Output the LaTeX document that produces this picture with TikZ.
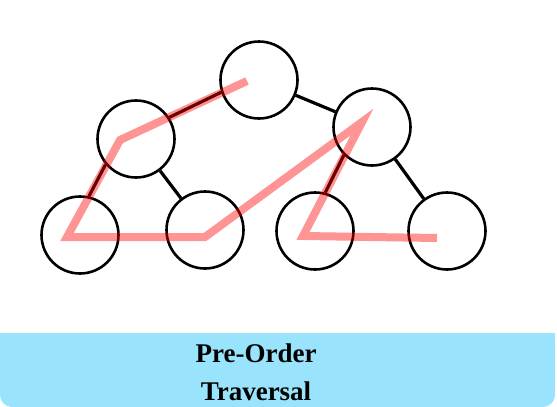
\documentclass[tikz,border=0pt]{standalone}
\usepackage{fontspec}
\setmainfont{Liberation Serif}
\definecolor{barblue}{HTML}{9AE3FD}
\tikzset{
  tnode/.style={circle, draw=black, line width=2.6pt, fill=white, minimum size=77pt, inner sep=0pt},
  tedge/.style={draw=black, line width=3.2pt},
  walk/.style={draw=red, line width=8pt, opacity=0.42},
  caption/.style={font=\bfseries\fontsize{27}{38}\selectfont, align=center, inner sep=0pt}
}
\begin{document}
\begin{tikzpicture}[x=1pt,y=-1pt]
\useasboundingbox (0,0) rectangle (557,407);
\fill[barblue, rounded corners=12pt] (0,333) rectangle (555,407);
\fill[barblue] (0,333) rectangle (555,360);
\node[caption] (cap) at (256,372) {Pre-Order\\Traversal};

\node[tnode] (r) at (259,80) {};
\node[tnode] (a) at (136,139) {};
\node[tnode] (b) at (372,127) {};
\node[tnode] (c) at (80,235) {};
\node[tnode] (d) at (205,230) {};
\node[tnode] (e) at (315,231) {};
\node[tnode] (f) at (447,231) {};

\draw[tedge] (r.198.8) -- (a.33.6);
\draw[tedge] (r) -- (b);
\draw[tedge] (a.220.7) -- (c.77.1);
\draw[tedge] (a) -- (d);
\draw[tedge] (b.225.7) -- (e.75.2);
\draw[tedge] (b) -- (f);

\coordinate (p0) at (247,81);
\coordinate (p1) at (120,140);
\coordinate (p2) at (67,237);
\coordinate (p3) at (205,237);
\coordinate (p4) at (362,122);
\coordinate (p5) at (303,236);
\coordinate (p6) at (437,238);
\draw[walk] (p0) -- (p1) -- (p2) -- (p3) -- (p4) -- (p5) -- (p6);
\end{tikzpicture}
\end{document}
